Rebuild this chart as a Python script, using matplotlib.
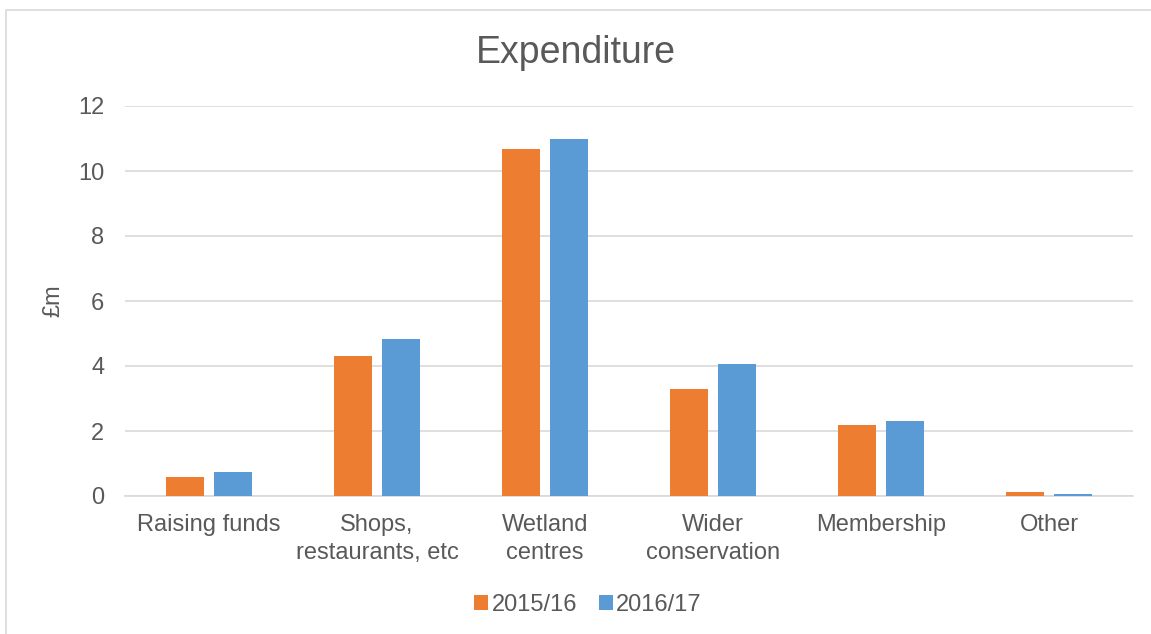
import numpy as np
import matplotlib
matplotlib.use('Agg')
import matplotlib.pyplot as plt
from matplotlib.patches import Rectangle

plt.rcParams['font.family'] = ['Liberation Sans', 'DejaVu Sans']

# Data
categories = ['Raising funds', 'Shops,\nrestaurants, etc', 'Wetland\ncentres',
              'Wider\nconservation', 'Membership', 'Other']
exp_1516 = [0.58, 4.3, 10.68, 3.3, 2.2, 0.12]
exp_1617 = [0.75, 4.83, 11.0, 4.06, 2.3, 0.06]
series_names = ['2015/16', '2016/17']
colors = ['#ED7D31', '#5B9BD5']
text_col = '#595959'

W, H = 1151, 634
fig = plt.figure(figsize=(W / 100, H / 100), dpi=100)

# light frame of the chart area (only top and left edges show)
fig.patches.append(Rectangle((6 / W, -0.1), 1.2, 1 - 10 / H + 0.1,
                             transform=fig.transFigure, fill=False,
                             edgecolor='#D9D9D9', linewidth=1.2))

ax = fig.add_axes([125 / W, (H - 496) / H, (1133 - 125) / W, 390 / H])

x = np.arange(len(categories))
bw = 0.223
off = 0.144
ax.bar(x - off, exp_1516, bw, color=colors[0], label=series_names[0], zorder=3)
ax.bar(x + off, exp_1617, bw, color=colors[1], label=series_names[1], zorder=3)

ax.set_xlim(-0.5, len(categories) - 0.5)
ax.set_ylim(0, 12)
ax.set_yticks(range(0, 13, 2))
ax.grid(axis='y', color='#D9D9D9', linewidth=1.2, zorder=0)
for s in ['top', 'right', 'left']:
    ax.spines[s].set_visible(False)
ax.spines['bottom'].set_color('#D9D9D9')
ax.spines['bottom'].set_linewidth(1.2)

ax.set_xticks(x)
ax.set_xticklabels(categories, fontsize=17, color=text_col, linespacing=1.35)
ax.tick_params(axis='x', length=0, pad=13)
ax.tick_params(axis='y', length=0, pad=15, labelsize=17, labelcolor=text_col)

ax.set_ylabel('£m', fontsize=17, color=text_col, labelpad=10)
fig.text(0.5, (H - 53) / H, 'Expenditure', ha='center', va='center',
         fontsize=27, color=text_col)

leg = fig.legend(loc='center', bbox_to_anchor=(588 / W, (H - 605) / H), ncol=2,
                 frameon=False, fontsize=17, handlelength=0.6, handleheight=0.6,
                 handletextpad=0.15, columnspacing=0.9)
for t in leg.get_texts():
    t.set_color(text_col)

fig.savefig('out.png', dpi=100, facecolor='white')
